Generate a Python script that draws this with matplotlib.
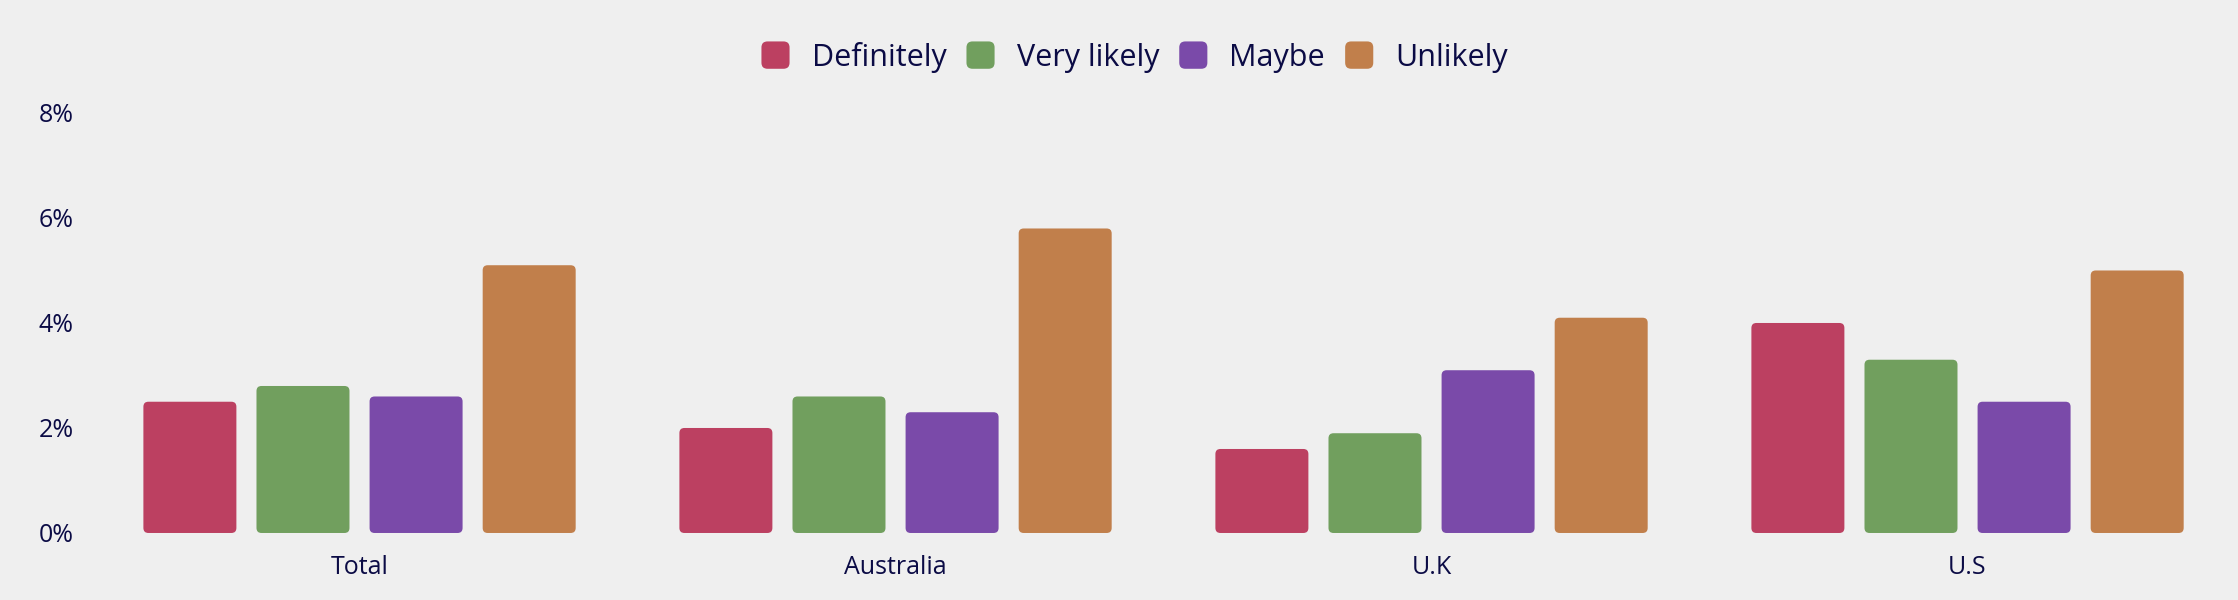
"""Grouped bar chart: likelihood responses by region."""

import matplotlib

matplotlib.use("Agg")
import matplotlib.pyplot as plt
import numpy as np
from matplotlib.legend_handler import HandlerPatch
from matplotlib.patches import FancyBboxPatch, Patch

regions = ["Total", "Australia", "U.K", "U.S"]
series_names = ["Definitely", "Very likely", "Maybe", "Unlikely"]
definitely = [2.5, 2.0, 1.6, 4.0]
very_likely = [2.8, 2.6, 1.9, 3.3]
maybe = [2.6, 2.3, 3.1, 2.5]
unlikely = [5.1, 5.8, 4.1, 5.0]
y_ticks = [0, 2, 4, 6, 8]

colors = ["#bc4061", "#719f5e", "#7a4aa9", "#c17f4b"]
bg = "#efefef"
text_color = "#0b0b45"

plt.rcParams["font.family"] = ["Open Sans", "DejaVu Sans"]


def rounded_handle(legend, orig_handle, xdescent, ydescent, width, height, fontsize):
    return FancyBboxPatch(
        (-xdescent, -ydescent), width, height,
        boxstyle=f"round,pad=0,rounding_size={height * 0.22}",
    )


def main() -> None:
    fig = plt.figure(figsize=(22.38, 6), dpi=100, facecolor=bg)
    ax = fig.add_axes([0.0409, 0.1117, 0.958, 0.70])
    ax.set_facecolor(bg)

    x = np.arange(len(regions))
    step = 0.211
    width = 0.1735
    all_series = [definitely, very_likely, maybe, unlikely]

    ax.set_xlim(-0.5, 3.5)
    ax.set_ylim(0, 8)

    # pixel aspect, used to keep corner rounding circular
    fig.canvas.draw()
    p0 = ax.transData.transform((0, 0))
    p1 = ax.transData.transform((1, 1))
    x_per_px = 1 / (p1[0] - p0[0])
    y_per_px = 1 / (p1[1] - p0[1])
    aspect = y_per_px / x_per_px
    radius = 5 * x_per_px

    for i, (values, color) in enumerate(zip(all_series, colors)):
        offset = (i - 1.5) * step
        bars = ax.bar(x + offset, values, width, color=color)
        for rect in bars:
            rect.set_visible(False)
            ax.add_patch(FancyBboxPatch(
                (rect.get_x(), rect.get_y()), rect.get_width(), rect.get_height(),
                boxstyle=f"round,pad=0,rounding_size={radius}",
                mutation_aspect=aspect, facecolor=color, edgecolor="none",
            ))

    ax.set_xticks(x)
    ax.set_xticklabels(regions)
    ax.set_yticks(y_ticks)
    ax.set_yticklabels([f"{t}%" for t in y_ticks])
    ax.tick_params(axis="x", length=0, pad=16, labelsize=18, labelcolor=text_color)
    ax.tick_params(axis="y", length=0, pad=13, labelsize=18, labelcolor=text_color)
    for spine in ax.spines.values():
        spine.set_visible(False)

    handles = [Patch(facecolor=c, edgecolor="none") for c in colors]
    leg = fig.legend(
        handles, series_names, loc="center", bbox_to_anchor=(0.507, 0.905),
        ncol=4, frameon=False, fontsize=22, handlelength=0.92, handleheight=1.0,
        handletextpad=0.72, columnspacing=0.66,
        handler_map={Patch: HandlerPatch(patch_func=rounded_handle)},
    )
    for t in leg.get_texts():
        t.set_color(text_color)

    fig.savefig("out.png", dpi=100, facecolor=bg)


if __name__ == "__main__":
    main()
